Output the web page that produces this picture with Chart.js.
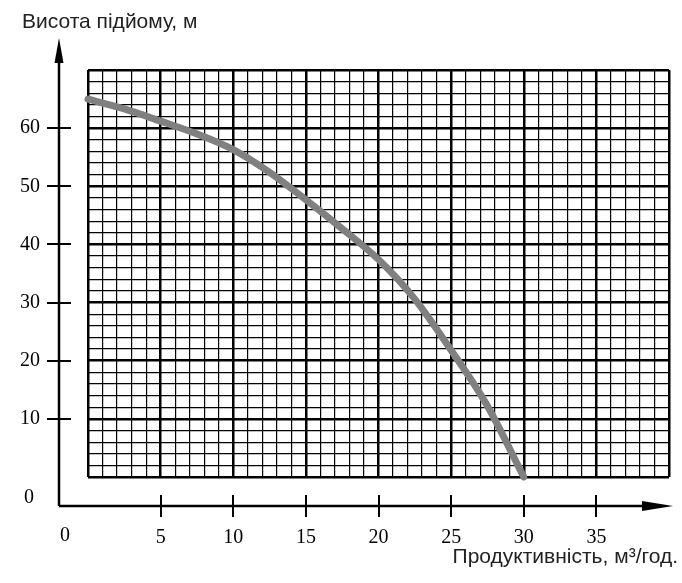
<!DOCTYPE html>
<html>
<head>
<meta charset="utf-8">
<script src="https://cdn.jsdelivr.net/npm/chart.js@4.4.1/dist/chart.umd.min.js"></script>
<style>
  html, body { margin:0; padding:0; background:#fff; }
  #wrap { width:682px; height:583px; }
</style>
</head>
<body>
<div id="wrap"><canvas id="pump-chart" width="682" height="583"></canvas></div>
<script>
// ---------------------------------------------------------------
// Kennlinie

var flow = [0, 2.5, 5, 7.5, 10, 12.5, 15, 17.5, 20, 22.5, 25, 27.5, 30];
var head = [65, 63.3, 61.2, 59, 56.3, 52.4, 47.7, 42.7, 37.4, 30.6, 21.8, 12.2, 0];

var xTicks = [5, 10, 15, 20, 25, 30, 35];
var yTicks = [10, 20, 30, 40, 50, 60];

var yTitle = "Висота підйому, м";
var xTitle = "Продуктивність, м³/год.";

var points = [];
for (var i = 0; i < flow.length; i++) {
  points.push({x: flow[i], y: head[i]});
}

// ---------------------------------------------------------------
// axes with arrows, offset from the grid

var axisPlugin = {
  id: 'axisPlugin',
  afterDraw: function(chart) {
    var ctx = chart.ctx;
    var area = chart.chartArea;
    var xs = chart.scales.x;
    var ys = chart.scales.y;
    var ax = area.left - 29;
    var ay = area.bottom + 29;

    ctx.save();
    ctx.strokeStyle = '#000';
    ctx.fillStyle = '#000';
    ctx.lineWidth = 2.5;

    // axis lines
    ctx.beginPath();
    ctx.moveTo(ax, ay);
    ctx.lineTo(ax, 55);
    ctx.moveTo(ax, ay);
    ctx.lineTo(660, ay);
    ctx.stroke();

    // arrow heads
    ctx.beginPath();
    ctx.moveTo(ax, 38);
    ctx.lineTo(ax - 4.5, 63);
    ctx.lineTo(ax + 4.5, 63);
    ctx.closePath();
    ctx.fill();
    ctx.beginPath();
    ctx.moveTo(673, ay);
    ctx.lineTo(642, ay - 5);
    ctx.lineTo(642, ay + 5);
    ctx.closePath();
    ctx.fill();

    // tick marks
    ctx.lineWidth = 2;
    ctx.beginPath();
    yTicks.forEach(function(v) {
      var py = Math.round(ys.getPixelForValue(v));
      ctx.moveTo(ax - 12, py);
      ctx.lineTo(ax + 12, py);
    });
    xTicks.forEach(function(v) {
      var px = Math.round(xs.getPixelForValue(v));
      ctx.moveTo(px, ay - 11);
      ctx.lineTo(px, ay + 11);
    });
    ctx.stroke();

    // zero labels at the origin
    ctx.font = '20px "Liberation Serif"';
    ctx.textBaseline = 'middle';
    ctx.textAlign = 'right';
    ctx.fillText('0', ax - 25, ay - 8);
    ctx.textAlign = 'center';
    ctx.fillText('0', ax + 6, ay + 30);

    // titles
    ctx.fillStyle = '#222';
    ctx.font = '21px "Liberation Sans"';
    ctx.textBaseline = 'alphabetic';
    ctx.textAlign = 'left';
    ctx.fillText(yTitle, 22, 28);
    ctx.textAlign = 'right';
    ctx.fillText(xTitle, 678, 563);
    ctx.restore();
  }
};

new Chart(document.getElementById("pump-chart"), {
  type: 'line',
  data: {
    datasets: [
      {
        label: "Напірна характеристика",
        data: points,
        borderColor: "#808080",
        backgroundColor: "#808080",
        borderWidth: 7,
        borderCapStyle: 'round',
        borderJoinStyle: 'round',
        pointRadius: 0,
        cubicInterpolationMode: 'monotone',
        clip: 8
      }
    ]
  },
  options: {
    responsive: false,
    animation: false,
    devicePixelRatio: 1,
    layout: {padding: {left: 0, top: 70, right: 13, bottom: 0}},
    scales: {
      x: {
        type: 'linear',
        min: 0,
        max: 40,
        border: {display: false},
        grid: {
          color: '#000',
          drawTicks: false,
          lineWidth: function(c) { return c.tick && c.tick.value % 5 === 0 ? 2.5 : 1.2; }
        },
        ticks: {
          stepSize: 1,
          autoSkip: false,
          maxRotation: 0,
          padding: 49,
          color: '#000',
          font: {family: 'Liberation Serif', size: 20},
          callback: function(v) { return xTicks.indexOf(v) >= 0 ? String(v) : ''; }
        },
        afterFit: function(s) {
          s.height = 106;
          s.paddingLeft = 0;
          s.paddingRight = 0;
        }
      },
      y: {
        min: 0,
        max: 70,
        border: {display: false},
        grid: {
          color: '#000',
          drawTicks: false,
          lineWidth: function(c) { return c.tick && c.tick.value % 10 === 0 ? 2.5 : 1.2; }
        },
        ticks: {
          stepSize: 2,
          autoSkip: false,
          padding: 48,
          color: '#000',
          font: {family: 'Liberation Serif', size: 20},
          callback: function(v) { return yTicks.indexOf(v) >= 0 ? String(v) : ''; }
        },
        afterFit: function(s) {
          s.width = 88;
          s.paddingTop = 0;
          s.paddingBottom = 0;
        }
      }
    },
    plugins: {
      legend: {display: false},
      tooltip: {enabled: false}
    }
  },
  plugins: [axisPlugin]
});
</script>
</body>
</html>
